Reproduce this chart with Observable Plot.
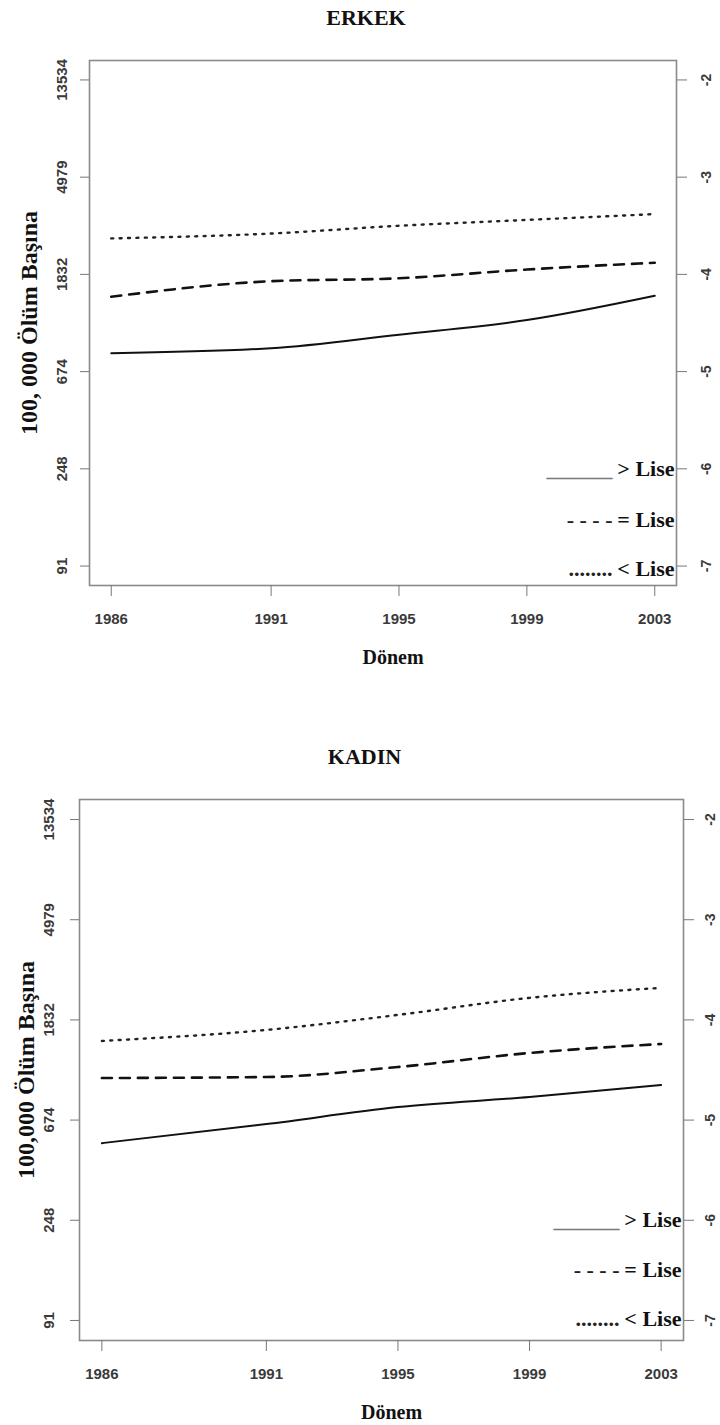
<!DOCTYPE html>
<html>
<head>
<meta charset="utf-8">
<script src="https://cdn.jsdelivr.net/npm/d3@7"></script>
<script src="https://cdn.jsdelivr.net/npm/@observablehq/plot@0.6"></script>
<style>
  html, body { margin: 0; padding: 0; background: #fff; }
  #chart svg { display: block; }
</style>
</head>
<body>
<div id="chart"></div>
<script>
// ---- data (log death rate per person; left axis shows exp(v)*100000) ----
const years = [1986, 1991, 1995, 1999, 2003];
const logTicks = [-7, -6, -5, -4, -3, -2];
const rateLabels = ["91", "248", "674", "1832", "4979", "13534"];
const groups = ["> Lise", "= Lise", "< Lise"];
const legendSamples = ["______", "- - - -", "........"];

const erkekLiseUstu = [-4.81, -4.76, -4.62, -4.47, -4.22];   // > Lise (solid)
const erkekLise     = [-4.23, -4.07, -4.04, -3.95, -3.88];   // = Lise (dashed)
const erkekLiseAlti = [-3.63, -3.58, -3.50, -3.44, -3.38];   // < Lise (dotted)

const kadinLiseUstu = [-5.23, -5.04, -4.87, -4.77, -4.65];
const kadinLise     = [-4.58, -4.57, -4.47, -4.33, -4.24];
const kadinLiseAlti = [-4.21, -4.10, -3.95, -3.78, -3.68];

const serif = "'Liberation Serif', 'Times New Roman', serif";
const sans = "'Liberation Sans', Arial, sans-serif";

function toRows(values) { return years.map((year, i) => ({year, value: values[i]})); }

function panel(cfg) {
  const styles = [
    {stroke: "#111", strokeWidth: 2},
    {stroke: "#111", strokeWidth: 2.6, strokeDasharray: "10,8"},
    {stroke: "#222", strokeWidth: 2.4, strokeDasharray: "2,6.4"}
  ];
  const sampleFill = ["#7a7a7a", "#222", "#222"];
  const series = [cfg.ust, cfg.esit, cfg.alt];
  return Plot.plot({
    width: 720,
    height: cfg.height,
    marginTop: cfg.mt, marginBottom: cfg.mb, marginLeft: cfg.ml, marginRight: cfg.mr,
    x: {domain: [1985.32, 2003.68], axis: null},
    y: {domain: [-7.2, -1.8], axis: null},
    style: {background: "#fff", overflow: "visible"},
    marks: [
      Plot.frame({stroke: "#8a8a8a", strokeWidth: 1.6}),
      // left axis ticks + labels
      Plot.axisY({anchor: "left", ticks: logTicks, tickSize: 9, tickFormat: () => "", stroke: "#777", label: null}),
      Plot.text(logTicks, {y: d => d, frameAnchor: "left", dx: cfg.leftLabelDx, rotate: -90,
        text: (d, i) => rateLabels[i], textAnchor: "middle", lineAnchor: "middle",
        fontFamily: sans, fontWeight: "bold", fontSize: 15, fill: "#3a3a3a"}),
      // right axis ticks + labels
      Plot.axisY({anchor: "right", ticks: logTicks, tickSize: 10, tickFormat: () => "", stroke: "#777", label: null}),
      Plot.text(logTicks, {y: d => d, frameAnchor: "right", dx: cfg.rightLabelDx, rotate: -90,
        text: d => String(d), textAnchor: "middle", lineAnchor: "middle",
        fontFamily: sans, fontWeight: "bold", fontSize: 14, fill: "#3a3a3a"}),
      // bottom axis
      Plot.axisX({anchor: "bottom", ticks: years, tickSize: 11, tickFormat: () => "", stroke: "#777", label: null}),
      Plot.text(years, {x: d => d, frameAnchor: "bottom", dy: 34, text: d => String(d),
        lineAnchor: "middle", fontFamily: sans, fontWeight: "bold", fontSize: 15, fill: "#3a3a3a"}),
      // series lines
      ...series.map((vals, i) => Plot.line(toRows(vals), {x: "year", y: "value", curve: "monotone-x", ...styles[i]})),
      // legend labels
      ...groups.map((g, i) => Plot.text([g], {frameAnchor: "bottom-right", dx: -2, dy: cfg.legendDy[i],
        lineAnchor: "middle", textAnchor: "end", fontFamily: serif, fontWeight: "bold", fontSize: 22, fill: "#111"})),
      // legend samples
      ...legendSamples.map((s, i) => Plot.text([s], {frameAnchor: "bottom-right", dx: -64, dy: cfg.legendDy[i],
        lineAnchor: "middle", textAnchor: "end", fontFamily: serif, fontWeight: "bold", fontSize: 22, fill: sampleFill[i]})),
      // title
      Plot.text([cfg.title], {frameAnchor: "top", dy: cfg.titleDy, dx: -17, lineAnchor: "middle",
        fontFamily: serif, fontWeight: "bold", fontSize: 22, fill: "#111"}),
      // x label
      Plot.text(["Dönem"], {frameAnchor: "bottom", dy: 72, dx: 10, lineAnchor: "middle",
        fontFamily: serif, fontWeight: "bold", fontSize: 20, fill: "#111"}),
      // y label
      Plot.text([cfg.ylabel], {frameAnchor: "left", dx: cfg.ylabelDx, rotate: -90, textAnchor: "middle", lineAnchor: "middle",
        fontFamily: serif, fontWeight: "bold", fontSize: 24, fill: "#111"})
    ]
  });
}

const chart = document.getElementById("chart");
chart.append(panel({
  title: "ERKEK", ylabel: "100, 000 Ölüm Başına",
  ust: erkekLiseUstu, esit: erkekLise, alt: erkekLiseAlti,
  height: 700, mt: 60, mb: 115, ml: 89, mr: 44,
  leftLabelDx: -27, rightLabelDx: 30, ylabelDx: -60, titleDy: -43,
  legendDy: [-117, -66, -17]
}));
chart.append(panel({
  title: "KADIN", ylabel: "100,000 Ölüm Başına",
  ust: kadinLiseUstu, esit: kadinLise, alt: kadinLiseAlti,
  height: 725, mt: 99, mb: 85, ml: 79, mr: 37,
  leftLabelDx: -30, rightLabelDx: 27, ylabelDx: -53, titleDy: -43,
  legendDy: [-121, -71, -22]
}));
</script>
</body>
</html>
